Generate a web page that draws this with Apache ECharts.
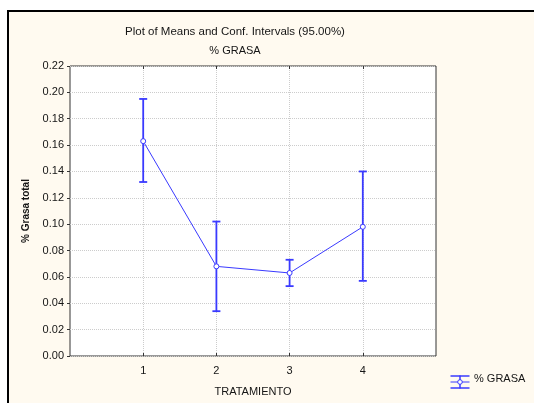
<!DOCTYPE html>
<html><head><meta charset="utf-8">
<script src="https://cdn.jsdelivr.net/npm/echarts@6/dist/echarts.min.js"></script>
<style>html,body{margin:0;padding:0;background:#fff;}#c{width:534px;height:403px;}</style>
</head><body><div id="c"></div>
<script>
const categories = [1, 2, 3, 4];
const means = [0.163, 0.068, 0.063, 0.098];
const lower = [0.132, 0.034, 0.053, 0.057];
const upper = [0.195, 0.102, 0.073, 0.140];
const yTicks = [0, 0.02, 0.04, 0.06, 0.08, 0.10, 0.12, 0.14, 0.16, 0.18, 0.20, 0.22];

const blue = '#3a3aff';
const font = 'Liberation Sans, Arial, sans-serif';
const txt = '#151515';
const chart = echarts.init(document.getElementById('c'));
chart.setOption({
  animation: false,
  backgroundColor: '#fff',
  graphic: [
    {type: 'rect', z: -10, shape: {x: 8, y: 11, width: 540, height: 400},
     style: {fill: '#fffaf0', stroke: '#000', lineWidth: 2}},
    {type: 'group', left: 448, top: 373, children: [
      {type: 'line', shape: {x1: 0, y1: 0.5, x2: 19, y2: 0.5}, style: {stroke: blue, lineWidth: 1.5}},
      {type: 'line', shape: {x1: 0, y1: 12.5, x2: 19, y2: 12.5}, style: {stroke: blue, lineWidth: 1.5}},
      {type: 'line', shape: {x1: 0, y1: 6.5, x2: 19, y2: 6.5}, style: {stroke: blue, lineWidth: 1}},
      {type: 'line', shape: {x1: 9.5, y1: 0, x2: 9.5, y2: 13}, style: {stroke: blue, lineWidth: 1.5}},
      {type: 'circle', shape: {cx: 9.5, cy: 6.5, r: 2.3}, style: {fill: '#fff', stroke: blue, lineWidth: 1}}
    ]},
    {type: 'text', left: 474, top: 373, style: {text: '% GRASA', fill: txt, font: '11px ' + font}}
  ],
  title: {
    text: 'Plot of Means and Conf. Intervals (95.00%)',
    subtext: '% GRASA',
    left: 230, top: 21, textAlign: 'center', itemGap: 7,
    textStyle: {fontSize: 11.5, fontWeight: 'normal', color: txt, fontFamily: font},
    subtextStyle: {fontSize: 11, color: txt, fontFamily: font}
  },
  grid: {left: 70, right: 98, top: 66, bottom: 47, show: true, borderColor: '#333', borderWidth: 1, backgroundColor: '#fff'},
  xAxis: [{
    type: 'value', min: 0, max: 5, interval: 1,
    name: 'TRATAMIENTO', nameLocation: 'middle', nameGap: 30,
    nameTextStyle: {fontSize: 11, color: txt, fontFamily: font},
    axisLine: {show: false},
    axisTick: {show: true, inside: true, length: 3, customValues: categories, lineStyle: {color: '#333'}},
    axisLabel: {fontSize: 11, color: txt, fontFamily: font, margin: 9, customValues: categories},
    splitLine: {show: true, lineStyle: {color: '#cccccc', type: [1, 1], width: 1}}
  }, {
    type: 'value', position: 'top', min: 0, max: 5, interval: 1,
    axisLine: {show: false},
    axisTick: {show: true, inside: true, length: 3, customValues: categories, lineStyle: {color: '#333'}},
    axisLabel: {show: false},
    splitLine: {show: false}
  }],
  yAxis: {
    type: 'value', min: 0, max: 0.22, interval: 0.02,
    name: '% Grasa total', nameLocation: 'middle', nameGap: 37, nameRotate: 90,
    nameTextStyle: {fontSize: 10, fontWeight: 'bold', color: txt, fontFamily: font},
    axisLine: {show: false},
    axisTick: {show: true, length: 3, lineStyle: {color: '#333'}},
    axisLabel: {fontSize: 11, color: txt, fontFamily: font, margin: 6,
      formatter: v => v.toFixed(2)},
    splitLine: {show: true, lineStyle: {color: '#cccccc', type: [1, 1], width: 1}}
  },
  series: [
    {
      type: 'custom', z: 3,
      data: categories.map((c, i) => [c, lower[i], upper[i]]),
      renderItem: (params, api) => {
        const x = api.value(0);
        const lo = api.coord([x, api.value(1)]);
        const hi = api.coord([x, api.value(2)]);
        const w = 4;
        const st = {stroke: blue, lineWidth: 1.8};
        return {type: 'group', children: [
          {type: 'line', shape: {x1: lo[0], y1: lo[1], x2: hi[0], y2: hi[1]}, style: st},
          {type: 'line', shape: {x1: lo[0] - w, y1: lo[1], x2: lo[0] + w, y2: lo[1]}, style: st},
          {type: 'line', shape: {x1: hi[0] - w, y1: hi[1], x2: hi[0] + w, y2: hi[1]}, style: st}
        ]};
      }
    },
    {
      type: 'line', z: 4,
      data: categories.map((c, i) => [c, means[i]]),
      symbol: 'circle', symbolSize: 5, showAllSymbol: true,
      lineStyle: {color: blue, width: 1},
      itemStyle: {color: '#fff', borderColor: blue, borderWidth: 1}
    }
  ]
});
</script></body></html>
